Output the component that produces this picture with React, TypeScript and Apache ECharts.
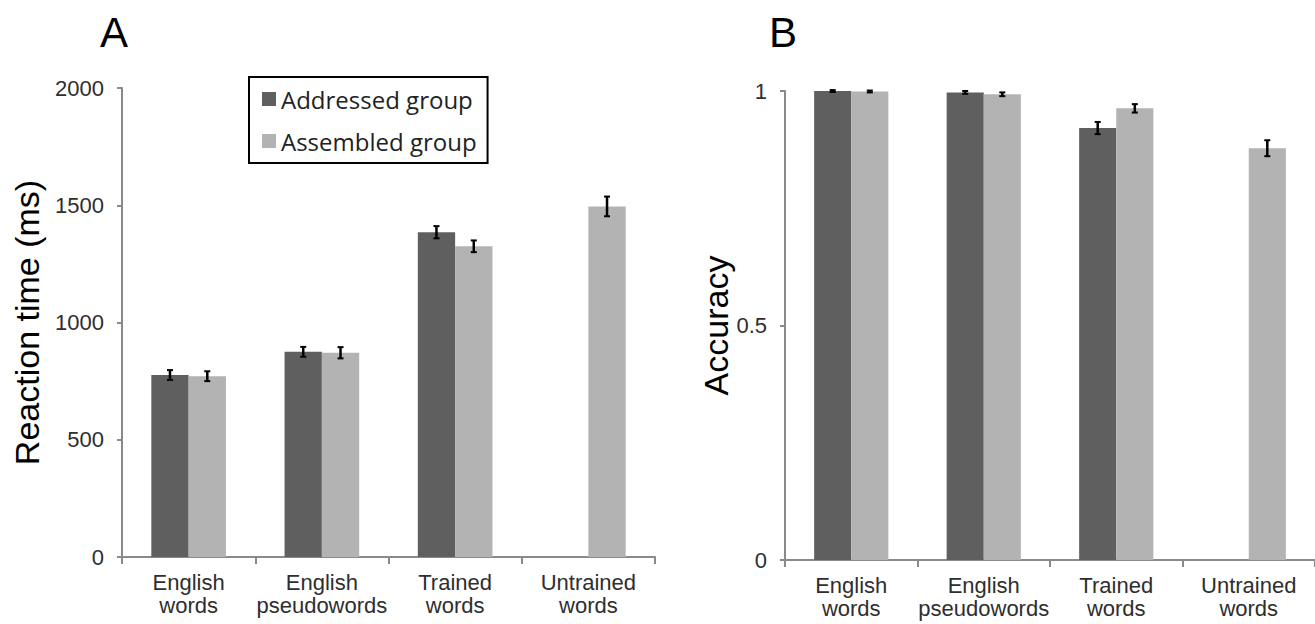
import React, { useEffect, useRef } from "react";
import * as echarts from "echarts";

const categories = ["English\nwords", "English\npseudowords", "Trained\nwords", "Untrained\nwords"];
const groupNames = ["Addressed group", "Assembled group"];

const rtAddressed: (number | null)[] = [776, 875, 1385, null];
const rtAssembled: (number | null)[] = [771, 871, 1325, 1495];
const rtErrAddressed: (number | null)[] = [21, 21, 26, null];
const rtErrAssembled: (number | null)[] = [21, 24, 25, 42];

const accAddressed: (number | null)[] = [1.0, 0.997, 0.921, null];
const accAssembled: (number | null)[] = [0.999, 0.993, 0.963, 0.878];
const accErrAddressed: (number | null)[] = [0.002, 0.003, 0.013, null];
const accErrAssembled: (number | null)[] = [0.002, 0.004, 0.009, 0.017];

const rtTicks = { min: 0, max: 2000, interval: 500 };
const accTicks = { min: 0, max: 1, interval: 0.5 };

const DARK = "#5f5f5f";
const LIGHT = "#b3b3b3";
const AXIS = "#8a8a8a";
const LABEL = "#2e2e2e";
const FONT = "'Liberation Sans', Arial, sans-serif";
const GAP = 0.44;

function errData(a: (number | null)[], ea: (number | null)[], b: (number | null)[], eb: (number | null)[]) {
  const out: number[][] = [];
  categories.forEach((_, i) => {
    if (a[i] != null && ea[i] != null) out.push([i, a[i] as number, ea[i] as number, 0]);
    if (b[i] != null && eb[i] != null) out.push([i, b[i] as number, eb[i] as number, 1]);
  });
  return out;
}

function renderErr(params: any, api: any) {
  const ci = api.value(0);
  const v = api.value(1);
  const e = api.value(2);
  const g = api.value(3);
  const band = api.size([1, 0])[0];
  const bw = (band * (1 - GAP)) / 2;
  const c = api.coord([ci, v]);
  const x = c[0] + (g === 0 ? -bw / 2 : bw / 2);
  const top = api.coord([ci, v + e])[1];
  const bot = api.coord([ci, v - e])[1];
  const style = { stroke: "#000", lineWidth: 2.5 };
  return {
    type: "group",
    children: [
      { type: "line", shape: { x1: x, y1: top, x2: x, y2: bot }, style },
      { type: "line", shape: { x1: x - 3, y1: top, x2: x + 3, y2: top }, style: { stroke: "#000", lineWidth: 2 } },
      { type: "line", shape: { x1: x - 3, y1: bot, x2: x + 3, y2: bot }, style: { stroke: "#000", lineWidth: 2 } },
    ],
  };
}

function xAxisOf(gridIndex: number) {
  return {
    type: "category",
    gridIndex,
    data: categories,
    boundaryGap: true,
    axisLine: { show: true, lineStyle: { color: AXIS, width: 2 } },
    axisTick: { show: true, length: 7, lineStyle: { color: AXIS, width: 2 } },
    axisLabel: { color: LABEL, fontSize: 22, fontFamily: FONT, lineHeight: 23, margin: 14, interval: 0 },
    splitLine: { show: false },
  };
}

function yAxisOf(gridIndex: number, t: { min: number; max: number; interval: number }, name: string, nameGap: number) {
  return {
    type: "value",
    gridIndex,
    min: t.min,
    max: t.max,
    interval: t.interval,
    name,
    nameLocation: "middle",
    nameRotate: 90,
    nameGap,
    nameTextStyle: { color: "#000", fontSize: 34, fontFamily: FONT },
    axisLine: { show: true, lineStyle: { color: AXIS, width: 2 } },
    axisTick: { show: true, length: 5, lineStyle: { color: AXIS, width: 2 } },
    axisLabel: { color: LABEL, fontSize: 22, fontFamily: FONT, margin: 18, formatter: (v: number) => String(v) },
    splitLine: { show: false },
  };
}

export default function App() {
  const ref = useRef<HTMLDivElement>(null);
  useEffect(() => {
    if (!ref.current) return;
    const chart = echarts.init(ref.current, undefined, { renderer: "svg" });
    const barCommon = { type: "bar", barGap: "0%", barCategoryGap: `${GAP * 100}%` };
    chart.setOption({
      animation: false,
      backgroundColor: "#ffffff",
      title: [
        { text: "A", left: 95, top: 6, textStyle: { fontSize: 42, fontWeight: "normal", fontFamily: FONT, color: "#000" } },
        { text: "B", left: 764, top: 6, textStyle: { fontSize: 42, fontWeight: "normal", fontFamily: FONT, color: "#000" } },
      ],
      legend: {
        data: groupNames,
        orient: "vertical",
        left: 249,
        top: 77,
        padding: [8, 11, 8, 13],
        borderColor: "#000",
        borderWidth: 2,
        icon: "rect",
        itemWidth: 14,
        itemHeight: 14,
        itemGap: 14,
        selectedMode: false,
        textStyle: { fontSize: 24, fontFamily: "'Open Sans', sans-serif", color: "#222", lineHeight: 28 },
      },
      grid: [
        { left: 122, top: 88, width: 533, height: 469 },
        { left: 785, top: 91, width: 533, height: 469 },
      ],
      xAxis: [xAxisOf(0), xAxisOf(1)],
      yAxis: [
        yAxisOf(0, rtTicks, "Reaction time (ms)", 78),
        yAxisOf(1, accTicks, "Accuracy", 50),
      ],
      series: [
        { ...barCommon, name: groupNames[0], xAxisIndex: 0, yAxisIndex: 0, data: rtAddressed.map((v) => (v == null ? "-" : v)), itemStyle: { color: DARK } },
        { ...barCommon, name: groupNames[1], xAxisIndex: 0, yAxisIndex: 0, data: rtAssembled.map((v) => (v == null ? "-" : v)), itemStyle: { color: LIGHT } },
        {
          type: "custom",
          name: "rt-error",
          xAxisIndex: 0,
          yAxisIndex: 0,
          renderItem: renderErr,
          encode: { x: 0, y: 1 },
          data: errData(rtAddressed, rtErrAddressed, rtAssembled, rtErrAssembled),
          z: 10,
        },
        { ...barCommon, name: groupNames[0], xAxisIndex: 1, yAxisIndex: 1, data: accAddressed.map((v) => (v == null ? "-" : v)), itemStyle: { color: DARK } },
        { ...barCommon, name: groupNames[1], xAxisIndex: 1, yAxisIndex: 1, data: accAssembled.map((v) => (v == null ? "-" : v)), itemStyle: { color: LIGHT } },
        {
          type: "custom",
          name: "acc-error",
          xAxisIndex: 1,
          yAxisIndex: 1,
          renderItem: renderErr,
          encode: { x: 0, y: 1 },
          data: errData(accAddressed, accErrAddressed, accAssembled, accErrAssembled),
          z: 10,
        },
      ],
    });
    return () => chart.dispose();
  }, []);
  return <div ref={ref} style={{ position: "absolute", left: 0, top: 0, width: 1315, height: 624 }} />;
}
